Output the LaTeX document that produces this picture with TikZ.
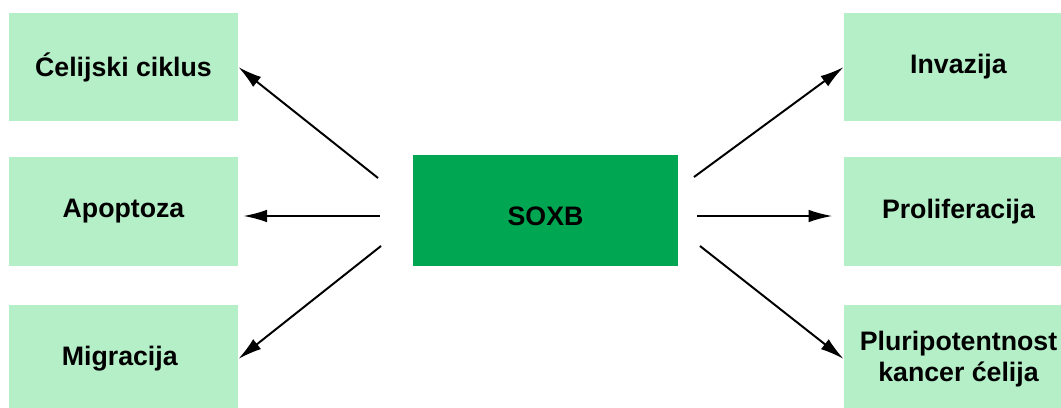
\documentclass[tikz,border=0pt]{standalone}
\usepackage{fontspec}
\setmainfont{Liberation Sans}
\usetikzlibrary{arrows.meta}

\definecolor{lightgreen}{HTML}{B4EFC8}
\definecolor{darkgreen}{HTML}{00A651}

\newcommand{\plutext}{Pluripotentnost\\kancer ćelija}

\tikzset{
    effect/.style={fill=lightgreen, minimum width=5.725cm, minimum height=2.7cm,
        inner sep=0pt, align=center, font=\bfseries\fontsize{19pt}{22pt}\selectfont},
    link/.style={-{Latex[length=17pt,width=9pt]}, line width=1.4pt}
}

\begin{document}
\begin{tikzpicture}[x=0.025cm, y=-0.025cm]
        \useasboundingbox (0,0) rectangle (1061,408);

        % Core node
        \node[fill=darkgreen, minimum width=6.625cm, minimum height=2.775cm, inner sep=0pt,
            text height=22pt, text depth=0pt,
            font=\bfseries\fontsize{19pt}{22pt}\selectfont] (soxb) at (545.5,210.5) {SOXB};

        % Left side
        \foreach \y/\sy/\sx/\name/\label in {
            67/178/378/cik/Ćelijski ciklus,
            211.5/216/380/apo/Apoptoza,
            359/246/381/mig/Migracija
        } {
            \node[effect] (\name) at (123.5,\y) {\label};
            \coordinate (from-\name) at (\sx,\sy);
        }
        \draw[link] (from-cik) -- (cik.east);
        \draw[link, shorten >=3.5pt] (from-apo) -- (apo.east |- from-apo);
        \draw[link] (from-mig) -- (mig.east);

        % Right side
        \foreach \y/\sy/\sx/\name/\label in {
            67/177/694/inv/Invazija,
            211.5/216/697/pro/Proliferacija,
            359/246/700/plu/\plutext
        } {
            \node[effect] (\name) at (958.5,\y) {\label};
            \coordinate (from-\name) at (\sx,\sy);
        }
        \draw[link] (from-inv) -- (inv.west);
        \draw[link, shorten >=8pt] (from-pro) -- (pro.west |- from-pro);
        \draw[link] (from-plu) -- (plu.west);
    \end{tikzpicture}
\end{document}
